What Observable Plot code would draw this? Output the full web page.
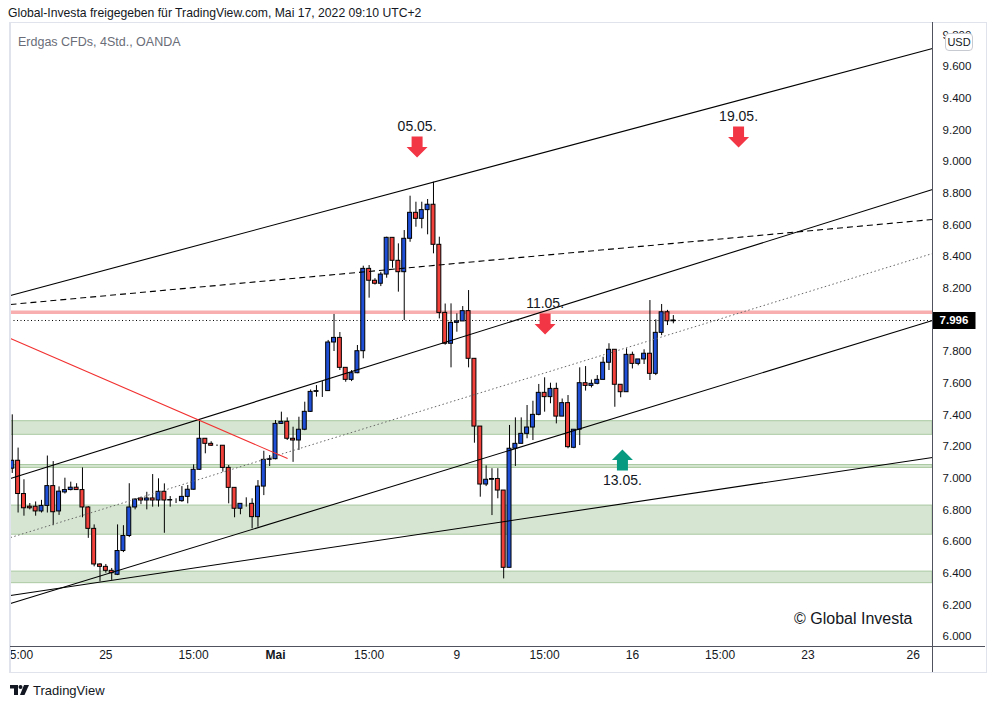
<!DOCTYPE html>
<html><head><meta charset="utf-8">
<script src="https://cdn.jsdelivr.net/npm/d3@7"></script>
<script src="https://cdn.jsdelivr.net/npm/@observablehq/plot@0.6"></script>
<style>
body{margin:0;background:#fff;font-family:"Liberation Sans",Arial,sans-serif;}
#wrap{position:relative;width:996px;height:708px;overflow:hidden;background:#fff}
#wrap > svg.mainchart{position:absolute;left:0;top:0}
.abs{position:absolute;white-space:nowrap}
</style></head><body><div id="wrap"></div>
<script>
// ---- candle data (4h, Erdgas CFDs) ----
const opens  = [7.06,7.11,6.90,6.82,6.82,6.79,6.825,6.95,6.79,6.91,6.925,6.94,6.925,6.815,6.68,6.455,6.44,6.415,6.39,6.54,6.635,6.815,6.872,6.859,6.872,6.859,6.914,6.859,6.862,6.855,6.882,6.927,7.053,7.249,7.217,7.205,7.205,7.065,6.939,6.807,6.838,6.838,6.754,6.947,7.116,7.12,7.343,7.356,7.249,7.238,7.306,7.419,7.545,7.55,7.55,7.857,7.886,7.697,7.621,7.663,7.802,8.322,8.247,8.228,8.286,8.518,8.373,8.301,8.512,8.676,8.638,8.693,8.727,8.474,8.044,7.849,7.981,7.99,8.055,7.754,7.326,6.96,6.99,6.995,6.922,6.434,7.186,7.217,7.28,7.32,7.40,7.539,7.512,7.564,7.389,7.474,7.192,7.306,7.60,7.583,7.596,7.621,7.729,7.811,7.59,7.543,7.779,7.722,7.75,7.786,7.659,7.918,8.048,7.991];
const highs  = [7.40,7.19,6.99,6.84,6.85,6.86,7.14,7.105,6.945,7.00,6.975,6.965,7.065,6.82,6.705,6.46,6.455,6.43,6.705,6.70,6.965,6.87,6.88,6.911,7.023,6.996,6.964,6.884,6.87,6.947,6.954,7.084,7.369,7.249,7.23,7.21,7.205,7.08,6.939,6.838,6.876,6.87,6.985,7.17,7.143,7.364,7.417,7.381,7.322,7.385,7.48,7.557,7.585,7.61,7.87,8.034,7.92,7.697,7.68,7.838,8.339,8.343,8.26,8.30,8.522,8.518,8.48,8.564,8.781,8.743,8.743,8.76,8.869,8.522,8.10,8.101,8.038,8.084,8.185,7.754,7.326,7.078,7.06,7.06,6.922,7.333,7.381,7.381,7.459,7.486,7.592,7.634,7.60,7.60,7.50,7.522,7.306,7.697,7.705,7.62,7.648,7.764,7.849,7.811,7.59,7.817,7.796,7.75,7.811,8.122,8.0,8.097,8.06,8.027];
const lows   = [7.03,6.78,6.76,6.80,6.76,6.78,6.78,6.70,6.765,6.90,6.92,6.925,6.75,6.62,6.44,6.345,6.40,6.355,6.385,6.53,6.625,6.80,6.833,6.80,6.817,6.817,6.652,6.817,6.84,6.848,6.838,6.925,7.05,7.154,7.20,7.20,7.038,6.838,6.75,6.769,6.817,6.68,6.69,6.89,7.074,7.116,7.339,7.238,7.10,7.175,7.30,7.415,7.512,7.51,7.55,7.80,7.68,7.606,7.61,7.66,7.754,8.137,8.22,8.21,8.263,8.326,8.175,7.996,8.49,8.585,8.575,8.537,8.417,8.006,7.84,7.697,7.922,7.99,7.697,7.221,6.88,6.947,6.764,6.87,6.364,6.434,7.074,7.217,7.249,7.238,7.394,7.417,7.47,7.343,7.389,7.186,7.186,7.206,7.55,7.57,7.59,7.621,7.68,7.448,7.508,7.543,7.69,7.71,7.718,7.617,7.648,7.90,7.964,7.975];
const closes = [7.11,6.90,6.81,6.81,6.79,6.825,6.95,6.785,6.915,6.925,6.94,6.925,6.815,6.68,6.455,6.44,6.415,6.40,6.54,6.635,6.815,6.865,6.859,6.872,6.859,6.914,6.859,6.862,6.862,6.882,6.927,7.053,7.249,7.217,7.205,7.205,7.065,6.939,6.807,6.838,6.838,6.754,6.947,7.116,7.12,7.343,7.356,7.249,7.238,7.306,7.419,7.545,7.55,7.55,7.857,7.886,7.697,7.621,7.663,7.802,8.322,8.247,8.228,8.286,8.518,8.373,8.301,8.512,8.676,8.638,8.693,8.727,8.474,8.044,7.849,7.981,7.99,8.055,7.754,7.326,6.96,6.99,6.995,6.922,6.434,7.186,7.217,7.28,7.32,7.40,7.539,7.512,7.564,7.389,7.474,7.196,7.306,7.60,7.583,7.596,7.621,7.729,7.811,7.59,7.543,7.779,7.722,7.75,7.786,7.659,7.918,8.048,7.991,7.996];

// ---- axis ticks ----
const yTicks = [6.0,6.2,6.4,6.6,6.8,7.0,7.2,7.4,7.6,7.8,8.0,8.2,8.4,8.6,8.8,9.0,9.2,9.4,9.6,9.8];
const xTickIdx = [1,16,31,45,61,76,91,106,121,136,154];
const xTickLabels = ["15:00","25","15:00","Mai","15:00","9","15:00","16","15:00","23","26"];

// ---- drawings ----
const zoneLo = [7.274,7.065,6.643,6.337];
const zoneHi = [7.360,7.083,6.827,6.410];
const resistance = [8.048];
const solidLines = [
  {i1:-0.3,p1:8.154,i2:157.3,p2:9.714},
  {i1:-0.3,p1:6.998,i2:157.3,p2:8.823},
  {i1:-0.3,p1:6.208,i2:157.3,p2:7.996},
  {i1:-0.3,p1:6.259,i2:157.3,p2:7.131}
];
const dashedLines = [{i1:-0.3,p1:8.097,i2:157.3,p2:8.634}];
const dottedLines = [{i1:-0.3,p1:6.625,i2:157.3,p2:8.419}];
const redLines = [{i1:-0.3,p1:7.882,i2:47.06,p2:7.124}];
const annLabels = ["05.05.","19.05.","11.05.","13.05."];
const annIdx = [69.2,124.15,91.08,104.3];
const annPrice = [9.025,9.088,7.907,7.181];
const annDir = ["down","down","down","up"];

const BLUE = "#1e4fd6", RED = "#f2413b", TEAL = "#089981", ARED = "#f23645";
const candles = opens.map((o,i)=>({i,o,h:highs[i],l:lows[i],c:closes[i]}));
const last = closes[closes.length-1];
const anns = annLabels.map((t,k)=>({t,i:annIdx[k],p:annPrice[k],dir:annDir[k]}));
const zones = zoneLo.map((lo,k)=>({lo,hi:zoneHi[k]}));
// TradingView hides the scale label that sits under the last-price box
const visibleTicks = yTicks.filter(t=>Math.abs(t-last)>0.07);

const arrowDown = {draw(ctx){ctx.moveTo(-5.5,-21);ctx.lineTo(5.5,-21);ctx.lineTo(5.5,-10.5);ctx.lineTo(10.5,-10.5);ctx.lineTo(0,0);ctx.lineTo(-10.5,-10.5);ctx.lineTo(-5.5,-10.5);ctx.closePath();}};
const arrowUp = {draw(ctx){ctx.moveTo(-5.5,21);ctx.lineTo(5.5,21);ctx.lineTo(5.5,10.5);ctx.lineTo(10.5,10.5);ctx.lineTo(0,0);ctx.lineTo(-10.5,10.5);ctx.lineTo(-5.5,10.5);ctx.closePath();}};
const priceBox = {draw(ctx){ctx.rect(-21.5,-8.5,43,17);}};

const linkOpts = {x1:"i1",y1:"p1",x2:"i2",y2:"p2"};
const chart = Plot.plot({
  width:996, height:708,
  marginLeft:10, marginRight:64, marginTop:22, marginBottom:62,
  x:{domain:[-0.3,157.3], axis:null},
  y:{domain:[5.937,9.878], axis:null},
  style:{fontFamily:'"Liberation Sans",Arial,sans-serif', fontSize:"12px", background:"#fff", color:"#131722", overflow:"visible"},
  marks:[
    Plot.rect(zones,{y1:"lo",y2:"hi",fill:"#d6e5d1",stroke:"#a9c9a1",strokeWidth:1}),
    Plot.ruleY(resistance,{stroke:"#f8aeae",strokeWidth:3.5}),
    Plot.ruleY([last],{stroke:"#000",strokeDasharray:"1,2.5",strokeWidth:1}),
    Plot.ruleX(candles,{x:"i",y1:"l",y2:"h",stroke:"#000",strokeWidth:1}),
    Plot.rect(candles.filter(d=>d.c>=d.o),{x1:d=>d.i-0.34,x2:d=>d.i+0.34,y1:"o",y2:"c",fill:BLUE,stroke:"#000",strokeWidth:1}),
    Plot.rect(candles.filter(d=>d.c<d.o),{x1:d=>d.i-0.34,x2:d=>d.i+0.34,y1:"c",y2:"o",fill:RED,stroke:"#000",strokeWidth:1}),
    Plot.link(dottedLines,{...linkOpts,stroke:"#666",strokeDasharray:"1.5,2.5",strokeWidth:1}),
    Plot.link(solidLines,{...linkOpts,stroke:"#000",strokeWidth:1.1}),
    Plot.link(dashedLines,{...linkOpts,stroke:"#000",strokeDasharray:"6,4",strokeWidth:1.1}),
    Plot.link(redLines,{...linkOpts,stroke:"#f23030",strokeWidth:1.1}),
    Plot.dot(anns.filter(d=>d.dir==="down"),{x:"i",y:"p",symbol:arrowDown,r:6,fill:ARED,stroke:"none"}),
    Plot.dot(anns.filter(d=>d.dir==="up"),{x:"i",y:"p",symbol:arrowUp,r:6,fill:TEAL,stroke:"none"}),
    Plot.text(anns.filter(d=>d.dir==="down"),{x:"i",y:"p",text:"t",dy:-31,fontSize:14,fill:"#131722"}),
    Plot.text(anns.filter(d=>d.dir==="up"),{x:"i",y:"p",text:"t",dy:31,fontSize:14,fill:"#131722"}),
    Plot.text(visibleTicks,{y:d=>d,text:d=>d3.format(".3f")(d),frameAnchor:"right",dx:24.5,textAnchor:"middle",fontSize:11.5,fill:"#131722"}),
    Plot.dot([last],{y:d=>d,frameAnchor:"right",dx:21.5,symbol:priceBox,r:6,fill:"#000",stroke:"none"}),
    Plot.text([last],{y:d=>d,text:d=>d3.format(".3f")(d),frameAnchor:"right",dx:21.5,textAnchor:"middle",fontSize:11.5,fill:"#fff",fontWeight:"bold"}),
    Plot.text(xTickIdx,{x:d=>d,text:(d,k)=>xTickLabels[k],frameAnchor:"bottom",dy:12.5,fontSize:12,fill:"#131722"})
  ]
});
chart.classList.add("mainchart");
const wrap = document.getElementById("wrap");
wrap.appendChild(chart);
// month labels are bold in TradingView
Array.from(chart.querySelectorAll("text")).filter(t=>t.textContent==="Mai").forEach(t=>t.setAttribute("font-weight","bold"));

function box(css){const d=document.createElement("div");d.className="abs";d.style.cssText=css;wrap.appendChild(d);return d;}
// hide overflow of first tick label to the left of the pane
box("left:0;top:647px;width:9px;height:24px;background:#fff");
// frame and separators
box("left:9px;top:22px;width:975px;height:649px;border:1px solid #e0e3eb;border-left:2px solid #e0e3eb;box-sizing:content-box");
box("left:932px;top:22px;width:1px;height:650px;background:#50535e");
box("left:10px;top:646px;width:975px;height:1px;background:#50535e");
// header texts
box("left:8px;top:6px;font-size:12.2px;color:#131722").textContent="Global-Investa freigegeben für TradingView.com, Mai 17, 2022 09:10 UTC+2";
box("left:18px;top:35px;font-size:12.5px;color:#6a6d78").textContent="Erdgas CFDs, 4Std., OANDA";
const usd = box("left:945px;top:33px;width:26px;height:16px;border:1px solid #c8cad1;border-radius:4px;background:#fff;font-size:11px;line-height:16px;text-align:center;color:#131722");
usd.textContent="USD";
box("left:794px;top:610px;font-size:16px;color:#131722").textContent="© Global Investa";
// TradingView logo
const logo = box("left:10px;top:683px;height:14px;font-size:13px;color:#131722;display:flex;align-items:center;gap:4px");
logo.innerHTML='<svg width="19" height="10" viewBox="0 0 19 10" style="display:block"><path d="M0 0h8v10H4V3.5H0z" fill="#131722"/><circle cx="10.5" cy="2" r="2" fill="#131722"/><path d="M14 0h5l-4.5 10H10z" fill="#131722"/></svg><span>TradingView</span>';
</script></body></html>
